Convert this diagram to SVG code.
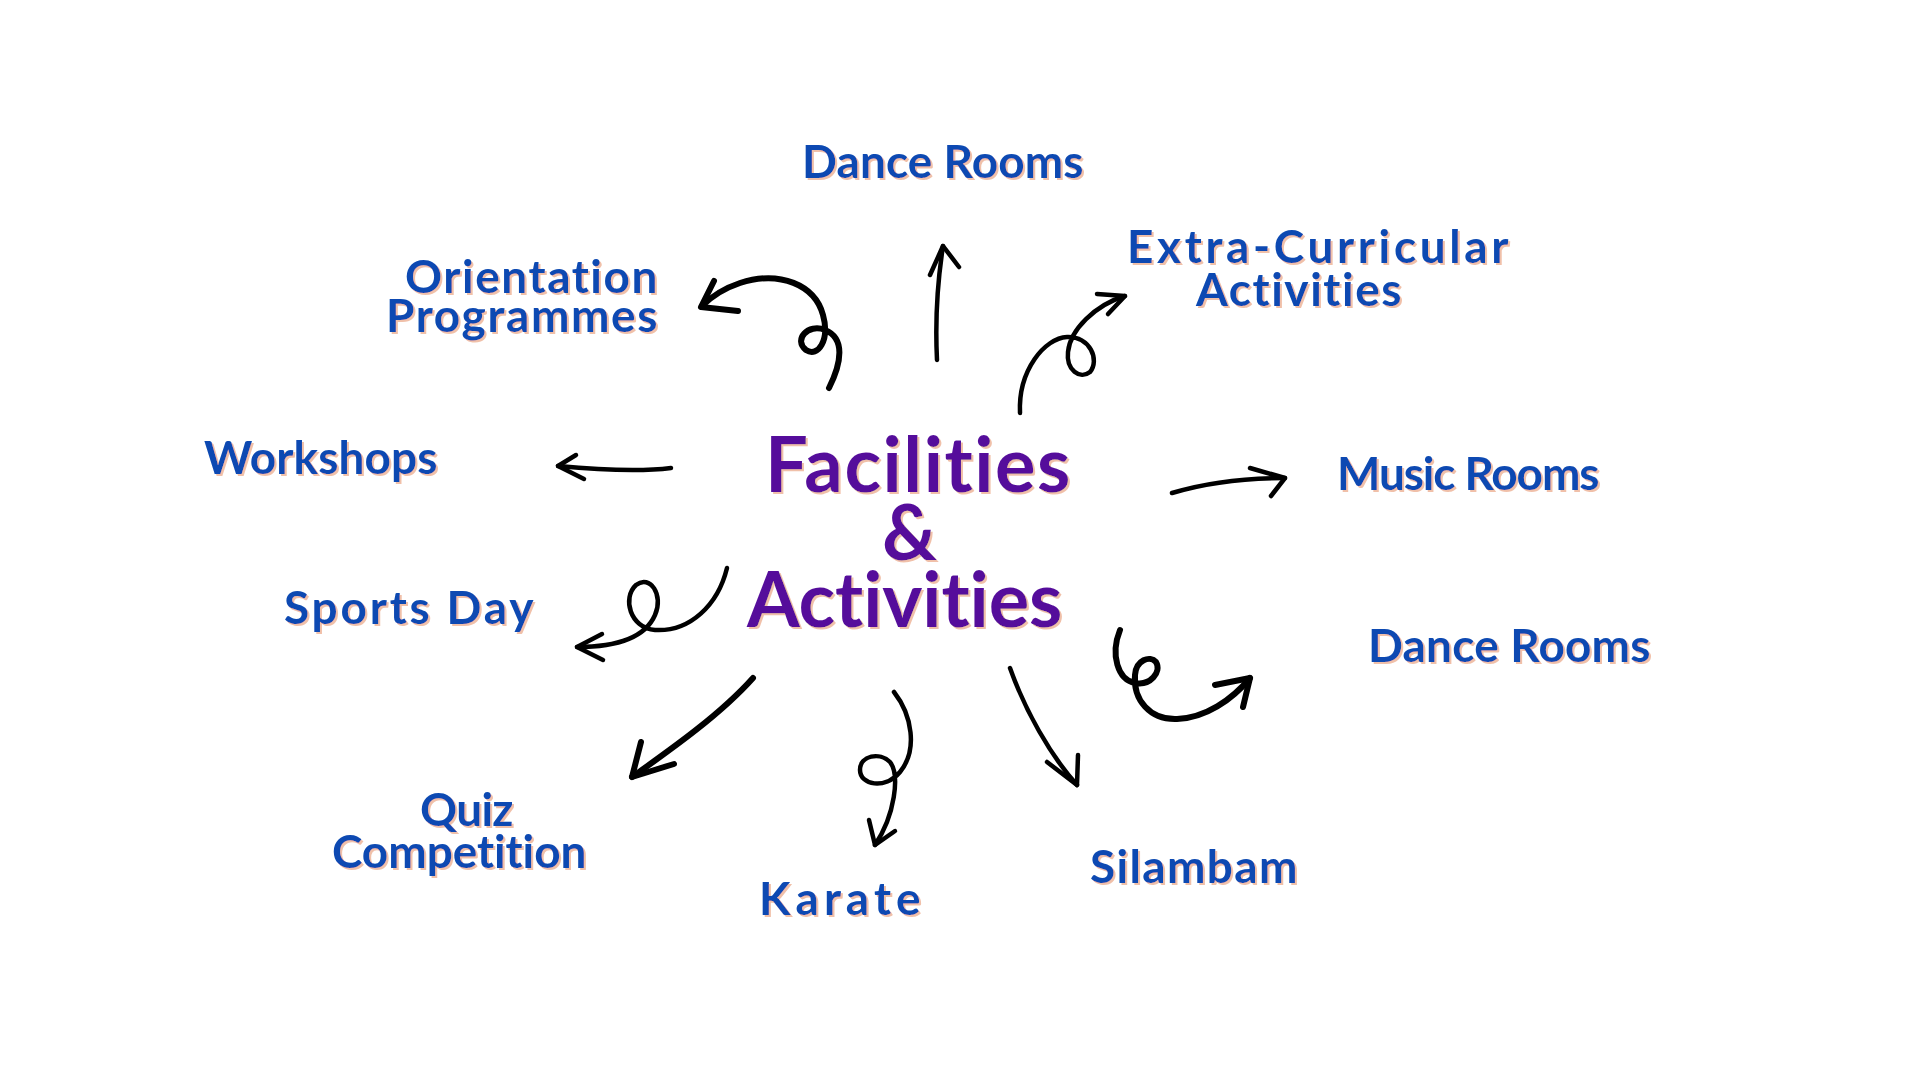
<svg xmlns="http://www.w3.org/2000/svg" width="1920" height="1080" viewBox="0 0 1920 1080">
<style>
text{font-variant-ligatures:none;font-feature-settings:"liga" 0,"clig" 0,"dlig" 0;letter-spacing:0.5px}
.lbl{font-family:Lato,"Noto Sans","DejaVu Sans",sans-serif;font-weight:700;font-size:46px;fill:#0b4ab2;filter:url(#sh)}
.main{font-family:Lato,"Noto Sans","DejaVu Sans",sans-serif;font-weight:700;font-size:76px;fill:#550f9b;filter:url(#sh)}
.ln{fill:none;stroke:#000;stroke-linecap:round;stroke-linejoin:round;stroke-width:4.5}
.thick{stroke-width:6}
</style>
<defs>
<filter id="sh" x="-5%" y="-10%" width="110%" height="130%">
<feDropShadow dx="2" dy="2" stdDeviation="0.6" flood-color="#efb9a0" flood-opacity="0.9"/>
</filter>
</defs>
<rect width="1920" height="1080" fill="#fff"/>

<g id="center">
<text class="main" x="765" y="492" textLength="306">Facilities</text>
<text class="main" x="882" y="560">&amp;</text>
<text class="main" x="747" y="627" textLength="316">Activities</text>
</g>

<g id="dance-rooms-top"><text class="lbl" x="802" y="178" textLength="282">Dance Rooms</text></g>
<g id="extra-curricular">
<text class="lbl" x="1127" y="263" textLength="382">Extra-Curricular</text>
<text class="lbl" x="1196" y="306" textLength="206">Activities</text>
</g>
<g id="music-rooms"><text class="lbl" x="1337" y="490" textLength="263">Music Rooms</text></g>
<g id="dance-rooms-right"><text class="lbl" x="1368" y="662" textLength="283">Dance Rooms</text></g>
<g id="silambam"><text class="lbl" x="1090" y="883" textLength="208">Silambam</text></g>
<g id="karate"><text class="lbl" x="759" y="915" textLength="162">Karate</text></g>
<g id="quiz-competition">
<text class="lbl" x="420" y="826" textLength="94">Quiz</text>
<text class="lbl" x="332" y="868" textLength="255">Competition</text>
</g>
<g id="sports-day"><text class="lbl" x="284" y="624" textLength="250">Sports Day</text></g>
<g id="workshops"><text class="lbl" x="204" y="474" textLength="234">Workshops</text></g>
<g id="orientation">
<text class="lbl" x="405" y="293" textLength="253">Orientation</text>
<text class="lbl" x="386" y="332" textLength="272">Programmes</text>
</g>

<g id="connectors">
<path class="ln thick" d="M829,388 C842,362 845,338 825,330 C808,323 793,340 806,350 C818,358 830,340 823,315 C815,285 780,270 740,283 C725,288 712,296 702,306"/>
<path class="ln thick" d="M714,281 L701,307 L738,311"/>
<path class="ln" d="M937,360 C935,320 937,285 943,246"/>
<path class="ln" d="M930,275 L943,246 L959,267"/>
<path class="ln" d="M1020,413 C1018,370 1045,338 1067,337 C1090,336 1100,360 1090,372 C1080,380 1066,370 1068,352 C1070,330 1095,305 1125,296"/>
<path class="ln" d="M1097,294 L1125,296 L1108,314"/>
<path class="ln" d="M671,468 C640,472 600,470 558,466"/>
<path class="ln" d="M576,455 L558,466 L584,479"/>
<path class="ln" d="M1172,493 C1205,483 1245,478 1285,478"/>
<path class="ln" d="M1250,468 L1285,478 L1271,496"/>
<path class="ln" d="M727,568 C718,605 690,632 655,630 C630,628 622,598 636,585 C650,574 664,595 655,615 C645,638 615,647 577,647"/>
<path class="ln" d="M602,634 L577,647 L603,660"/>
<path class="ln thick" d="M753,678 C720,715 670,750 632,777"/>
<path class="ln thick" d="M641,742 L632,777 L674,764"/>
<path class="ln" d="M894,692 C912,715 918,750 900,772 C885,790 860,785 860,770 C860,755 880,752 890,762 C900,775 895,815 875,845"/>
<path class="ln" d="M869,820 L875,845 L895,831"/>
<path class="ln" d="M1010,668 C1025,710 1050,755 1077,785"/>
<path class="ln" d="M1047,762 L1077,785 L1078,755"/>
<path class="ln thick" d="M1120,630 C1110,655 1118,680 1135,683 C1150,686 1162,672 1156,662 C1150,655 1136,660 1135,675 C1133,700 1150,720 1177,719 C1205,718 1232,700 1250,678"/>
<path class="ln thick" d="M1215,685 L1250,678 L1243,707"/>
</g>
</svg>
